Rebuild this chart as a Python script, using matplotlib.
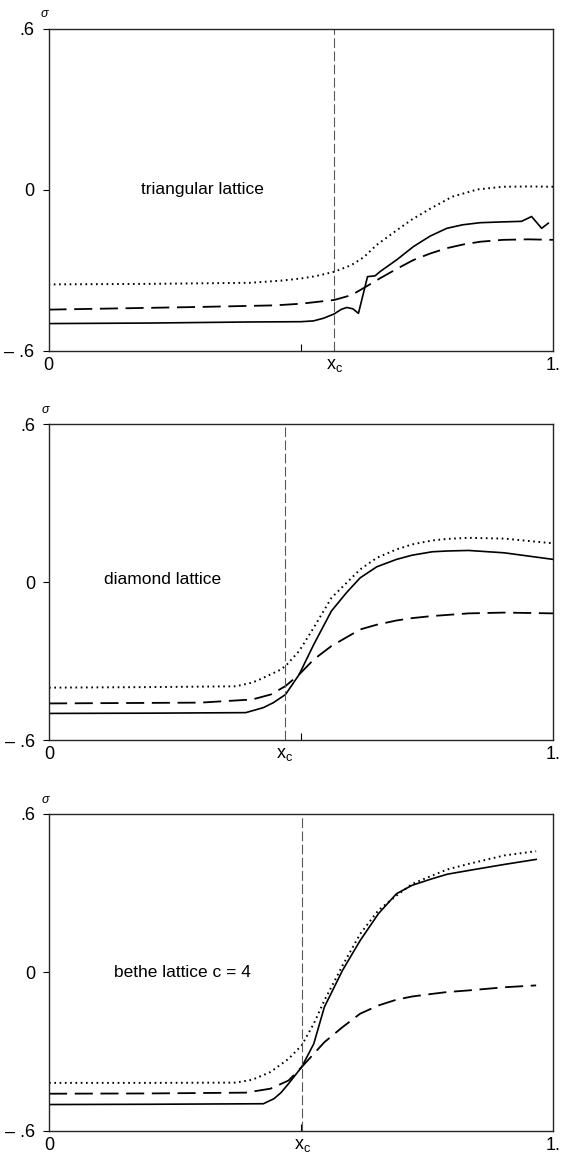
import matplotlib
matplotlib.use("Agg")
import matplotlib.pyplot as plt

plt.rcParams['font.family'] = ['Liberation Sans', 'DejaVu Sans']
plt.rcParams['lines.scale_dashes'] = False

# data
titles = ['triangular lattice', 'diamond lattice', 'bethe lattice c = 4']
x_c = [0.566, 0.467, 0.502]

tri_dot_x = [0.0, 0.2, 0.4, 0.46, 0.5, 0.53, 0.566, 0.6, 0.625, 0.65, 0.69, 0.72, 0.756, 0.8, 0.85, 0.9, 0.95, 1.0]
tri_dot_y = [-0.352, -0.350, -0.346, -0.338, -0.330, -0.321, -0.305, -0.28, -0.25, -0.205, -0.15, -0.11, -0.07, -0.025, 0.002, 0.012, 0.013, 0.012]
tri_sol_x = [0.0, 0.2, 0.4, 0.5, 0.525, 0.545, 0.566, 0.58, 0.591, 0.603, 0.614, 0.632, 0.647, 0.657, 0.69,
             0.723, 0.756, 0.789, 0.82, 0.855, 0.9, 0.937, 0.957, 0.977, 0.990]
tri_sol_y = [-0.498, -0.496, -0.492, -0.491, -0.488, -0.478, -0.462, -0.445, -0.438, -0.443, -0.46, -0.323, -0.32, -0.304, -0.26,
             -0.211, -0.172, -0.143, -0.13, -0.122, -0.119, -0.117, -0.099, -0.143, -0.124]
tri_dash_x = [0.0, 0.3, 0.45, 0.5, 0.566, 0.6, 0.624, 0.657, 0.69, 0.723, 0.756, 0.789, 0.822, 0.855, 0.9, 0.95, 1.0]
tri_dash_y = [-0.446, -0.436, -0.43, -0.424, -0.41, -0.392, -0.366, -0.329, -0.294, -0.261, -0.237, -0.217, -0.203, -0.193, -0.186, -0.184, -0.186]

dia_dot_x = [0.0, 0.2, 0.37, 0.403, 0.42, 0.439, 0.455, 0.469, 0.496, 0.525, 0.56, 0.617, 0.65, 0.689, 0.72, 0.76, 0.79, 0.832, 0.903, 1.0]
dia_dot_y = [-0.401, -0.399, -0.396, -0.382, -0.368, -0.351, -0.337, -0.319, -0.262, -0.173, -0.06, 0.048, 0.092, 0.124, 0.143, 0.158, 0.164, 0.168, 0.165, 0.147]
dia_sol_x = [0.0, 0.2, 0.39, 0.425, 0.445, 0.469, 0.496, 0.525, 0.56, 0.59, 0.617, 0.65, 0.689, 0.72, 0.76, 0.79, 0.832, 0.903, 1.0]
dia_sol_y = [-0.499, -0.498, -0.496, -0.477, -0.458, -0.427, -0.351, -0.237, -0.11, -0.04, 0.016, 0.058, 0.086, 0.102, 0.115, 0.118, 0.12, 0.111, 0.086]
dia_dash_x = [0.0, 0.3, 0.403, 0.44, 0.469, 0.496, 0.525, 0.56, 0.617, 0.65, 0.689, 0.72, 0.76, 0.832, 0.903, 1.0]
dia_dash_y = [-0.461, -0.458, -0.446, -0.427, -0.395, -0.351, -0.294, -0.243, -0.18, -0.162, -0.146, -0.137, -0.129, -0.119, -0.116, -0.119]

bet_dot_x = [0.0, 0.2, 0.37, 0.403, 0.439, 0.475, 0.501, 0.525, 0.546, 0.582, 0.617, 0.653, 0.689, 0.72, 0.76, 0.79, 0.832, 0.903, 0.966]
bet_dot_y = [-0.418, -0.418, -0.417, -0.406, -0.377, -0.327, -0.276, -0.194, -0.106, 0.026, 0.146, 0.235, 0.291, 0.335, 0.367, 0.39, 0.411, 0.443, 0.459]
bet_sol_x = [0.0, 0.2, 0.425, 0.446, 0.46, 0.475, 0.501, 0.525, 0.546, 0.582, 0.617, 0.653, 0.689, 0.72, 0.76, 0.79, 0.832, 0.903, 0.966]
bet_sol_y = [-0.5, -0.499, -0.497, -0.478, -0.455, -0.421, -0.358, -0.27, -0.131, 0.008, 0.121, 0.222, 0.298, 0.33, 0.355, 0.372, 0.386, 0.409, 0.428]
bet_dash_x = [0.0, 0.2, 0.39, 0.439, 0.475, 0.501, 0.525, 0.546, 0.582, 0.617, 0.653, 0.689, 0.72, 0.76, 0.79, 0.832, 0.903, 0.966]
bet_dash_y = [-0.459, -0.458, -0.455, -0.44, -0.409, -0.358, -0.308, -0.264, -0.207, -0.156, -0.125, -0.103, -0.091, -0.081, -0.074, -0.068, -0.056, -0.049]

curves = [
    [(tri_sol_x, tri_sol_y), (tri_dash_x, tri_dash_y), (tri_dot_x, tri_dot_y)],
    [(dia_sol_x, dia_sol_y), (dia_dash_x, dia_dash_y), (dia_dot_x, dia_dot_y)],
    [(bet_sol_x, bet_sol_y), (bet_dash_x, bet_dash_y), (bet_dot_x, bet_dot_y)],
]
label_pos = [(0.183, 0.0), (0.108, 0.01), (0.128, 0.0)]

# layout (figure fractions)
boxes = [[0.086, 0.6972, 0.895, 0.2778],
         [0.087, 0.3615, 0.894, 0.2726],
         [0.087, 0.0242, 0.894, 0.2735]]

fig = plt.figure(figsize=(5.64, 11.59), dpi=100)

for i in range(3):
    ax = fig.add_axes(boxes[i])
    sol, dash, dot = curves[i]
    ax.plot(sol[0], sol[1], color='black', lw=1.2)
    ax.plot(dash[0], dash[1], color='black', lw=1.3, dashes=(13, 5.5))
    ax.plot(dot[0], dot[1], color='black', lw=1.4, dashes=(1.2, 2.6))
    ax.axvline(x_c[i], color='0.35', lw=0.8, dashes=(7, 2.5))

    ax.set_xlim(0, 1)
    ax.set_ylim(-0.6, 0.6)
    ax.set_yticks([-0.6, 0, 0.6])
    ax.set_yticklabels(['\u2013 .6', '0', '.6'], fontsize=13)
    ax.set_xticks([0, x_c[i], 1])
    ax.set_xticklabels(['0', r'x$_\mathregular{c}$', '1.'], fontsize=13)
    ax.set_xticks([0.5], minor=True)
    ax.tick_params(axis='x', which='major', length=0, pad=4)
    ax.tick_params(axis='x', which='minor', direction='in', length=5, width=0.8)
    ax.tick_params(axis='y', direction='out', length=4, width=0.8, pad=6)
    for s in ax.spines.values():
        s.set_linewidth(1.0)
        s.set_color('0.15')

    ax.text(label_pos[i][0], label_pos[i][1], titles[i], fontsize=12.5, va='center', ha='left')
    ax.text(-0.008, 1.045, '\u03c3', transform=ax.transAxes, fontsize=9, style='italic',
            ha='center', va='center')

plt.savefig('out.png', dpi=100)
